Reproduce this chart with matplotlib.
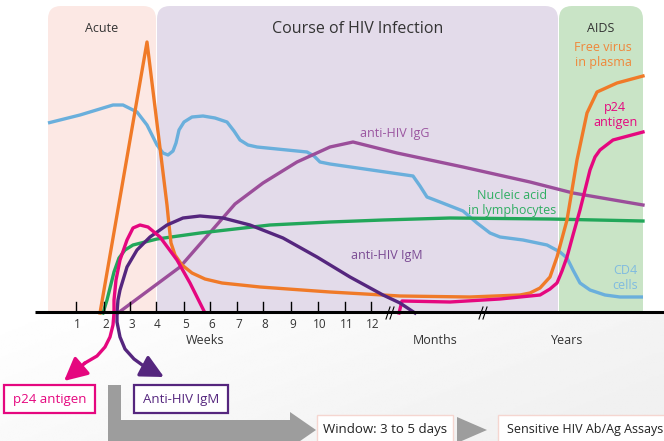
import numpy as np
import matplotlib.pyplot as plt
from matplotlib.patches import FancyBboxPatch, Rectangle, Polygon, FancyArrowPatch

plt.rcParams['font.family'] = ['Open Sans', 'DejaVu Sans']

# x: horizontal position along the time axis, y: level above the baseline
virus_x = [100, 147, 167, 169, 171, 175, 182, 192, 205, 222, 260, 330, 400, 470, 520, 530, 540, 550, 557, 567, 577, 587, 597, 617, 643]
virus_y = [-1, 270, 107, 87, 69, 57, 47, 39, 33, 29, 25, 20, 16, 15, 17, 19, 24, 35, 55, 92, 152, 199, 220, 229, 236]

cd4_x = [48, 80, 113, 123, 137, 147, 157, 163, 168, 173, 176, 179, 184, 192, 203, 215, 227, 234, 240, 248, 257,
         307, 314, 320, 330, 413, 420, 427, 440, 463, 477, 490, 500, 523, 547, 560, 567, 573, 580, 590, 605, 620, 643]
cd4_y = [189, 197, 207, 207, 200, 187, 167, 159, 157, 161, 169, 182, 190, 195, 196, 194, 190, 181, 172, 167, 165,
         160, 156, 150, 148, 136, 126, 115, 110, 101, 89, 79, 75, 72, 67, 60, 54, 42, 29, 22, 17, 15, 15]

igg_x = [118, 180, 235, 263, 297, 330, 353, 397, 463, 530, 573, 643]
igg_y = [-1, 45, 108, 129, 150, 165, 170, 159, 145, 130, 119, 107]

nucleic_x = [103, 107, 110, 114, 119, 125, 133, 145, 157, 200, 270, 330, 383, 450, 550, 643]
nucleic_y = [-1, 12, 24, 40, 54, 62, 67, 70, 73, 79, 87, 90, 92, 94, 93, 91]

p24_early_x = [204, 197, 190, 177, 160, 148, 140, 133, 127, 120, 116, 114, 114, 113, 110, 105, 97, 85]
p24_early_y = [1, 15, 29, 52, 75, 85, 87, 84, 72, 52, 32, 12, -1, -13, -25, -35, -44, -51]
p24_tip = (64, -69)

p24_late_x = [399, 402, 450, 500, 540, 550, 557, 562, 567, 573, 580, 585, 590, 595, 600, 613, 643]
p24_late_y = [-1, 11, 10, 13, 17, 23, 29, 41, 55, 77, 102, 122, 142, 155, 162, 172, 180]

igm_x = [145, 134, 125, 120, 117, 117, 118, 120, 127, 137, 150, 167, 183, 200, 223, 250, 283, 317, 350, 383, 400, 415]
igm_y = [-55, -47, -37, -25, -10, 0, 12, 22, 45, 62, 75, 87, 94, 96, 94, 87, 74, 55, 35, 17, 9, -1]
igm_tip = (164, -65)

week_ticks = [75.5, 103.5, 129.5, 155.5, 183.5, 210, 236.5, 263, 291, 318, 344.5, 371]
week_labels = [str(i) for i in range(1, 13)]

fig = plt.figure(figsize=(6.64, 4.41), dpi=100)
ax = fig.add_axes([0, 0, 1, 1])

# stage panels with rounded tops
panels = [(48, 156, '#fce8e4', 'Acute', 9), (157, 558, '#e3dbea', 'Course of HIV Infection', 11.5),
          (559, 643, '#c9e4c6', 'AIDS', 9)]
for x0, x1, col, name, fs in panels:
    ax.add_patch(FancyBboxPatch((x0 + 13, -20), x1 - x0 - 26, 306 + 20 - 13, boxstyle='round,pad=13',
                                fc=col, ec='none', zorder=0))
    ax.text((x0 + x1) / 2, 283, name, ha='center', va='center', fontsize=fs, color='#333333')

# faint grey shading below the axis, darker toward the lower right
gx, gy = np.meshgrid(np.linspace(0, 1, 200), np.linspace(0, 1, 80))
shade = 1 - 0.055 * np.clip(0.8 * gx + 0.4 * gy, 0, 1)
ax.imshow(shade, extent=(0, 664, -129, 0), cmap='gray', vmin=0, vmax=1, origin='upper',
          aspect='auto', zorder=0.5, interpolation='bilinear')
ax.set_xlim(0, 664)
ax.set_ylim(-129, 312)
ax.axis('off')

lw = 2.4
ax.plot(cd4_x, cd4_y, color='#6aafdc', lw=lw, zorder=3, solid_joinstyle='round', solid_capstyle='butt')
ax.plot(igg_x, igg_y, color='#9b4e9a', lw=lw, zorder=3, solid_joinstyle='round')
ax.plot(nucleic_x, nucleic_y, color='#22a75a', lw=lw, zorder=3, solid_joinstyle='round')
ax.plot(virus_x, virus_y, color='#f07a28', lw=lw, zorder=3.2, solid_joinstyle='round')
ax.plot(p24_late_x, p24_late_y, color='#e5077f', lw=lw, zorder=3.3, solid_joinstyle='round')
ax.plot(igm_x, igm_y, color='#55267e', lw=lw, zorder=3.4, solid_joinstyle='round')
ax.plot(p24_early_x, p24_early_y, color='#e5077f', lw=lw, zorder=3.5, solid_joinstyle='round')

# arrowheads on the two early markers
arrows = [((p24_early_x[-1], p24_early_y[-1]), p24_tip, '#e5077f'),
          ((igm_x[0], igm_y[0]), igm_tip, '#55267e')]
for start, tip, col in arrows:
    ax.add_patch(FancyArrowPatch(start, tip, arrowstyle='-|>,head_length=1.0,head_width=0.5', mutation_scale=14,
                                 color=col, lw=lw, shrinkA=0, shrinkB=0, zorder=3.6))

# axis line, ticks, breaks
ax.plot([35, 664], [0, 0], color='black', lw=2.2, zorder=4, solid_capstyle='butt')
for t, lab in zip(week_ticks, week_labels):
    ax.plot([t, t], [0, 10], color='black', lw=1, zorder=4)
    ax.text(t + 2, -12, lab, ha='center', va='center', fontsize=8.5, color='#333333')
for bx in [389, 482]:
    for d in [0, 4]:
        ax.plot([bx - 3 + d, bx + 1 + d], [-7, 5], color='black', lw=0.8, zorder=4)
ax.text(205, -28, 'Weeks', ha='center', va='center', fontsize=9, color='#333333')
ax.text(435, -28, 'Months', ha='center', va='center', fontsize=9, color='#333333')
ax.text(567, -28, 'Years', ha='center', va='center', fontsize=9, color='#333333')

# curve labels
ax.text(603, 257, 'Free virus\nin plasma', ha='center', va='center', fontsize=9, color='#f0873a', linespacing=1.2)
ax.text(615, 197, 'p24\nantigen', ha='center', va='center', fontsize=9, color='#e5077f', linespacing=1.2)
ax.text(395, 179, 'anti-HIV IgG', ha='center', va='center', fontsize=9, color='#9b55a0')
ax.text(512, 109, 'Nucleic acid\nin lymphocytes', ha='center', va='center', fontsize=9, color='#2fae62', linespacing=1.2)
ax.text(387, 56, 'anti-HIV IgM', ha='center', va='center', fontsize=9, color='#7a4a93')
ax.text(625, 34, 'CD4\ncells', ha='center', va='center', fontsize=9, color='#80bbe0', linespacing=1.2)

# boxes below the axis
ax.add_patch(Rectangle((4, -101), 91, 28, fc='white', ec='#e5077f', lw=1.6, zorder=5))
ax.text(49.5, -87, 'p24 antigen', ha='center', va='center', fontsize=9.5, color='#e5077f', zorder=6)
ax.add_patch(Rectangle((134, -101), 94, 28, fc='white', ec='#55267e', lw=1.6, zorder=5))
ax.text(181, -87, 'Anti-HIV IgM', ha='center', va='center', fontsize=9.5, color='#55267e', zorder=6)

ax.add_patch(Polygon([(108, -73), (121, -73), (121, -108), (290, -108), (290, -100), (316, -118),
                      (290, -136), (290, -140), (108, -140)], closed=True, fc='#9d9d9d', ec='none', zorder=5))
ax.add_patch(Rectangle((317, -140), 136, 37, fc='white', ec='#f5d6d0', lw=1, zorder=5))
ax.text(385, -118, 'Window: 3 to 5 days', ha='center', va='center', fontsize=9.5, color='#222222', zorder=6)
ax.add_patch(Polygon([(457, -105), (487, -118), (457, -131)], closed=True, fc='#9d9d9d', ec='none', zorder=5))
ax.add_patch(Rectangle((498, -140), 180, 37, fc='white', ec='#f5d6d0', lw=1, zorder=5))
ax.text(507, -118, 'Sensitive HIV Ab/Ag Assays', ha='left', va='center', fontsize=9, color='#222222', zorder=6)

plt.savefig('out.png', dpi=100)
